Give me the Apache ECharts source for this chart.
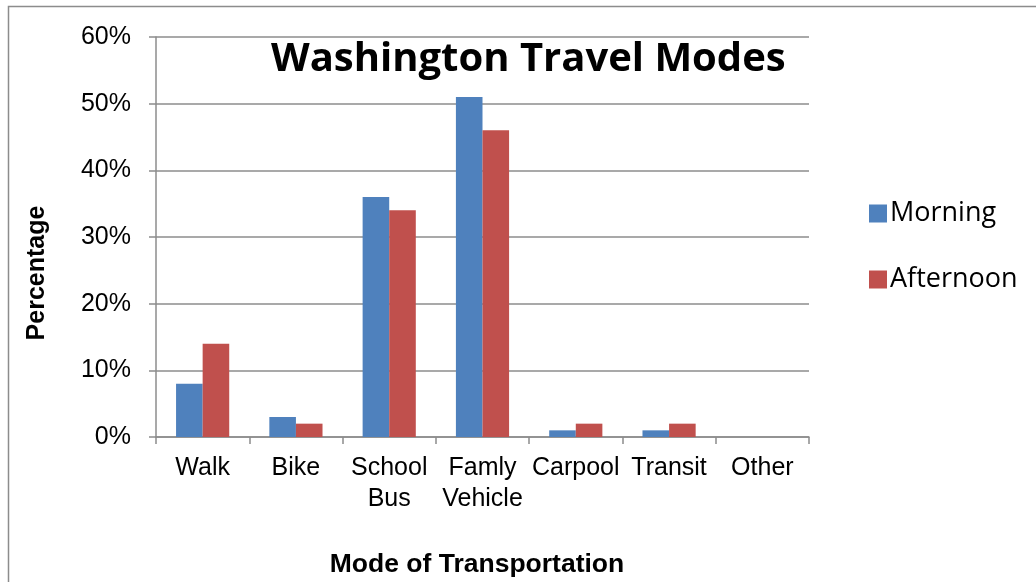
<!DOCTYPE html>
<html>
<head>
<meta charset="utf-8">
<script src="https://cdn.jsdelivr.net/npm/echarts@6/dist/echarts.min.js"></script>
<style>
html,body{margin:0;padding:0;background:#fff;}
#chart{width:1036px;height:582px;}
</style>
</head>
<body>
<div id="chart"></div>
<script>
// 数据
var categories = ['Walk', 'Bike', 'School\nBus', 'Famly\nVehicle', 'Carpool', 'Transit', 'Other'];
var morning = [8, 3, 36, 51, 1, 1, 0];
var afternoon = [14, 2, 34, 46, 2, 2, 0];
var yTicks = [0, 10, 20, 30, 40, 50, 60];

var myChart = echarts.init(document.getElementById('chart'));

var option = {
    animation: false,
    title: {
        text: 'Washington Travel Modes',
        left: 266,
        top: 35,
        textStyle: {
            fontFamily: 'Open Sans',
            fontWeight: 'bold',
            fontSize: 40,
            color: '#000'
        }
    },
    legend: {
        orient: 'vertical',
        left: 864,
        top: 195,
        itemWidth: 18,
        itemHeight: 18,
        itemGap: 39,
        icon: 'rect',
        data: ['Morning', 'Afternoon'],
        textStyle: {
            fontFamily: 'Open Sans',
            fontSize: 27,
            color: '#000',
            padding: [0, 0, 0, -2]
        }
    },
    graphic: [{
        type: 'rect',
        shape: {x: 8.5, y: 6.5, width: 1100, height: 700},
        style: {fill: 'none', stroke: '#8c8c8c', lineWidth: 1.5},
        silent: true
    }, {
        // 纵轴标题
        type: 'text',
        x: 37,
        y: 273,
        rotation: Math.PI / 2,
        style: {
            text: 'Percentage',
            fontFamily: 'Liberation Sans',
            fontWeight: 'bold',
            fontSize: 25,
            fill: '#000',
            align: 'center',
            verticalAlign: 'middle'
        },
        silent: true
    }],
    grid: {
        left: 156,
        right: 1036 - 809,
        top: 37,
        bottom: 582 - 437,
        outerBoundsMode: 'none'
    },
    xAxis: {
        type: 'category',
        data: categories,
        name: 'Mode of Transportation',
        nameLocation: 'middle',
        nameGap: 114,
        nameTextStyle: {
            fontFamily: 'Liberation Sans',
            fontWeight: 'bold',
            fontSize: 26.5,
            color: '#000',
            padding: [0, 11, 0, 0]
        },
        axisLine: {lineStyle: {color: '#8c8c8c', width: 1.5}},
        axisTick: {show: true, length: 7, lineStyle: {color: '#8c8c8c', width: 1.5}},
        axisLabel: {
            interval: 0,
            margin: 16,
            fontFamily: 'Liberation Sans',
            fontSize: 25,
            lineHeight: 31,
            color: '#000'
        }
    },
    yAxis: {
        type: 'value',
        min: yTicks[0],
        max: yTicks[yTicks.length - 1],
        interval: 10,
        axisLine: {show: true, lineStyle: {color: '#8c8c8c', width: 1.5}},
        axisTick: {show: true, length: 7, lineStyle: {color: '#8c8c8c', width: 1.5}},
        splitLine: {lineStyle: {color: '#8c8c8c', width: 1.5}},
        axisLabel: {
            margin: 25,
            fontFamily: 'Liberation Sans',
            fontSize: 25,
            color: '#000',
            formatter: '{value}%'
        }
    },
    series: [{
        name: 'Morning',
        type: 'bar',
        data: morning,
        barGap: '0%',
        barCategoryGap: '43%',
        itemStyle: {color: '#4f81bd'}
    }, {
        name: 'Afternoon',
        type: 'bar',
        data: afternoon,
        barGap: '0%',
        barCategoryGap: '43%',
        itemStyle: {color: '#c0504d'}
    }]
};

myChart.setOption(option);
</script>
</body>
</html>
